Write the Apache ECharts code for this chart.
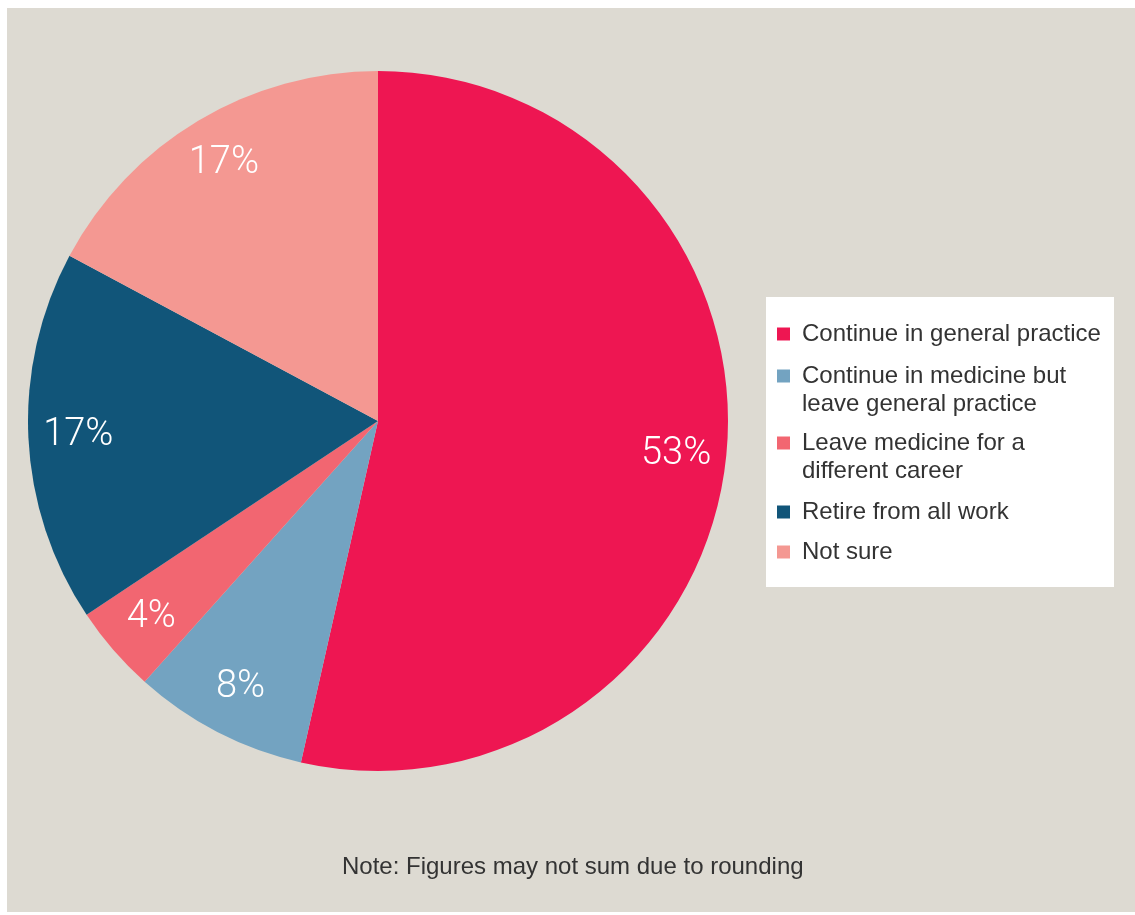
<!DOCTYPE html>
<html>
<head>
<meta charset="utf-8">
<script src="https://cdn.jsdelivr.net/npm/echarts@6/dist/echarts.min.js"></script>
<style>
  html, body { margin: 0; padding: 0; background: #ffffff; }
  #chart { width: 1135px; height: 915px; }
</style>
</head>
<body>
<div id="chart"></div>
<script>
// Intentions of survey respondents (percent)
const categories = [
  'Continue in general practice',
  'Continue in medicine but\nleave general practice',
  'Leave medicine for a\ndifferent career',
  'Retire from all work',
  'Not sure'
];
const shares = [53, 8, 4, 17, 17];
const sliceColors = ['#EE1652', '#73A3C1', '#F26671', '#115579', '#F49892'];
const noteText = 'Note: Figures may not sum due to rounding';

const FONT = '"Liberation Sans", Arial, sans-serif';
const TEXT = '#333333';

const pieData = categories.map((name, i) => ({
  name,
  value: shares[i],
  itemStyle: { color: sliceColors[i] }
}));

// one legend block per entry so wrapped entries keep their marker on the first line
const legendTops = [320, 334, 401, 498, 538];
const legends = categories.map((name, i) => {
  const twoLines = name.indexOf('\n') >= 0;
  return {
    left: 777,
    top: legendTops[i],
    orient: 'vertical',
    padding: 0,
    selectedMode: false,
    icon: 'rect',
    itemWidth: 13,
    itemHeight: 13,
    data: [name],
    formatter: n => (twoLines ? '\n' + n : n),
    textStyle: {
      fontFamily: FONT,
      fontSize: 24,
      lineHeight: 28,
      color: TEXT,
      padding: [0, 0, 0, 7]
    }
  };
});

const chart = echarts.init(document.getElementById('chart'), null, { renderer: 'canvas' });
chart.setOption({
  backgroundColor: '#ffffff',
  animation: false,
  graphic: [
    {
      type: 'rect',
      z: -10,
      shape: { x: 7, y: 8, width: 1128, height: 904 },
      style: { fill: '#DDDAD2' },
      silent: true
    },
    {
      type: 'rect',
      z: -5,
      shape: { x: 766, y: 297, width: 348, height: 290 },
      style: { fill: '#ffffff' },
      silent: true
    },
    {
      type: 'text',
      left: 342,
      top: 855,
      style: {
        text: noteText,
        font: '24px ' + FONT,
        fill: TEXT
      },
      silent: true
    }
  ],
  legend: legends,
  series: [
    {
      type: 'pie',
      center: [378, 421],
      radius: [0, 350],
      startAngle: 90,
      clockwise: true,
      silent: true,
      label: { show: false },
      labelLine: { show: false },
      itemStyle: { borderWidth: 0 },
      data: pieData
    },
    {
      // transparent ring that carries the percentage labels near the rim
      type: 'pie',
      center: [378, 421],
      radius: [244, 350],
      startAngle: 90,
      clockwise: true,
      silent: true,
      legendHoverLink: false,
      itemStyle: { color: 'rgba(0,0,0,0)', borderWidth: 0 },
      label: {
        show: true,
        position: 'inside',
        formatter: p => p.value + '%',
        color: '#ffffff',
        fontFamily: 'Roboto, ' + FONT,
        fontWeight: 300,
        fontSize: 38
      },
      labelLine: { show: false },
      data: categories.map((name, i) => ({ name: name + ' ', value: shares[i] }))
    }
  ]
});
</script>
</body>
</html>
